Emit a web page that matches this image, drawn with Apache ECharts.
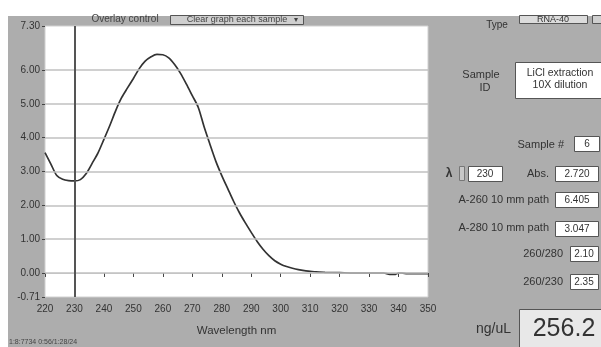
<!DOCTYPE html>
<html>
<head>
<meta charset="utf-8">
<script src="https://cdn.jsdelivr.net/npm/echarts@6/dist/echarts.min.js"></script>
<style>
html,body{margin:0;padding:0;background:#fff;width:601px;height:347px;overflow:hidden;}
#panel{position:absolute;left:8px;top:16px;width:593px;height:331px;background:#adadad;}
#chart{position:absolute;left:0;top:0;width:601px;height:347px;}
</style>
</head>
<body>
<div id="panel"></div>
<div id="chart"></div>
<script>
// Data
var wavelengths = [220,222,224,226,228,230,232,234,236,238,240,242,244,246,248,250,252,254,256,258,260,262,264,266,268,270,272,274,276,278,280,282,284,286,288,290,292,294,296,298,300,302,304,306,308,310,312,315,320,325,330,335,337,339,340,341,343,345,350];
var absorbance  = [3.56,3.22,2.88,2.77,2.73,2.72,2.76,2.94,3.24,3.55,3.95,4.36,4.80,5.18,5.47,5.75,6.04,6.26,6.39,6.46,6.45,6.36,6.16,5.90,5.58,5.24,4.90,4.32,3.80,3.30,2.88,2.50,2.12,1.78,1.48,1.20,0.93,0.70,0.51,0.36,0.26,0.19,0.14,0.10,0.07,0.05,0.03,0.02,0.01,0.00,0.00,0.00,-0.04,-0.04,0.00,0.00,-0.02,-0.02,-0.02];
var yTickLabels = [-0.71,0,1,2,3,4,5,6,7.30];
var gridValues = [0,1,2,3,4,5,6];
var cursorWavelength = 230;
var xTitle = 'Wavelength nm';
var readoutLabels = ['Sample #','Abs.','A-260 10 mm path','A-280 10 mm path','260/280','260/230'];
var readoutValues = ['6','2.720','6.405','3.047','2.10','2.35'];
var lambdaValue = '230';
var concentration = '256.2';
var sampleId = ['LiCl extraction','10X dilution'];
var sampleType = 'RNA-40';
var footer = '1:8:7734 0:56/1:28/24';

var FONT = '"Liberation Sans", Arial, sans-serif';
var TXT = '#333';
function txt(x,y,s,size,align,extra){
  var st = {text:s, font: size+'px '+FONT, fill: TXT, align: align||'left', verticalAlign:'middle'};
  if (extra) for (var k in extra) st[k]=extra[k];
  return {type:'text', x:x, y:y, z:20, style:st, silent:true};
}
function box(x,y,w,h,fill){
  return {type:'rect', z:15, shape:{x:x,y:y,width:w,height:h}, style:{fill:fill||'#ffffff', stroke:'#555', lineWidth:1}, silent:true};
}

var g = [];
// top controls
g.push(txt(125,19,'Overlay control',10,'center',{fill:'#444'}));
g.push(box(170.5,15.5,133,9,'#cfcfcf'));
g.push(txt(237,20,'Clear graph each sample',9,'center',{fill:'#444'}));
g.push(txt(296,20,'▾',8,'center',{fill:'#444'}));
g.push(txt(497,25,'Type',10,'center'));
g.push(box(519.5,15.5,68,8,'#dcdcdc'));
g.push(txt(553,19.5,sampleType,9,'center'));
g.push(box(592.5,15.5,10,8,'#cfcfcf'));
// Sample ID
g.push(txt(481,75,'Sample',11,'center'));
g.push(txt(485,88,'ID',11,'center'));
g.push(box(515.5,62.5,90,36));
g.push(txt(560,73,sampleId[0],10.5,'center'));
g.push(txt(560,85,sampleId[1],10.5,'center'));
// readouts
g.push(txt(564,145,readoutLabels[0],11,'right'));
g.push(box(574.5,136.5,25,15));
g.push(txt(587,144,readoutValues[0],10,'center'));
g.push(txt(449,174,'λ',12,'center',{font:'bold 12px '+FONT}));
g.push({type:'rect', z:15, shape:{x:459.5,y:166.5,width:5,height:14}, style:{fill:'#c8c8c8', stroke:'#777', lineWidth:1}, silent:true});
g.push(box(468.5,166.5,34,15));
g.push(txt(485,174,lambdaValue,10,'center'));
g.push(txt(549,174,readoutLabels[1],11,'right'));
g.push(box(555.5,166.5,43,15));
g.push(txt(577,174,readoutValues[1],10,'center'));
g.push(txt(549,200,readoutLabels[2],11,'right'));
g.push(box(555.5,192.5,43,15));
g.push(txt(577,200,readoutValues[2],10,'center'));
g.push(txt(549,228,readoutLabels[3],11,'right'));
g.push(box(555.5,221.5,43,15));
g.push(txt(577,229,readoutValues[3],10,'center'));
g.push(txt(563,254,readoutLabels[4],11,'right'));
g.push(box(570.5,246.5,28,15));
g.push(txt(584,254,readoutValues[4],10,'center'));
g.push(txt(563,282,readoutLabels[5],11,'right'));
g.push(box(570.5,274.5,28,15));
g.push(txt(584,282,readoutValues[5],10,'center'));
// concentration
g.push(txt(511,329,'ng/uL',14,'right'));
g.push(box(519.5,309.5,82,40,'#e8e8e8'));
g.push(txt(564,329,concentration,25,'center'));
// footer
g.push(txt(9,342,footer,7,'left',{fill:'#444'}));

var chart = echarts.init(document.getElementById('chart'), null, {renderer:'canvas'});
chart.setOption({
  animation:false,
  backgroundColor:'transparent',
  grid:{left:45, right:173, top:26, bottom:50, show:true, backgroundColor:'#ffffff', borderColor:'#d0d0d0', borderWidth:1},
  xAxis:{
    type:'value', min:220, max:350, interval:10,
    name:xTitle, nameLocation:'middle', nameGap:28,
    nameTextStyle:{fontFamily:FONT, fontSize:11.5, color:TXT},
    axisLine:{show:true, lineStyle:{color:'#d0d0d0'}},
    axisTick:{show:true, inside:false, length:4, lineStyle:{color:'#444'}},
    axisLabel:{fontFamily:FONT, fontSize:10, color:TXT, margin:7},
    splitLine:{show:false}
  },
  yAxis:{
    type:'value', min:-0.71, max:7.30,
    axisLine:{show:false},
    axisTick:{show:true, length:3, customValues:yTickLabels, lineStyle:{color:'#444'}},
    axisLabel:{fontFamily:FONT, fontSize:10, color:TXT, margin:5, customValues:yTickLabels,
      formatter:function(v){return v.toFixed(2);}},
    splitLine:{show:false}
  },
  series:[
    {
      type:'line', z:1, data:[], silent:true,
      markLine:{
        silent:true, symbol:['none','none'], label:{show:false},
        lineStyle:{color:'#c0c0c0', width:1.5, type:'solid'},
        data: gridValues.map(function(v){return {yAxis:v};})
      }
    },
    {
      type:'line', z:3, showSymbol:false, smooth:0.3,
      lineStyle:{color:'#333', width:1.7},
      data: wavelengths.map(function(w,i){return [w, absorbance[i]];}),
      markLine:{
        silent:true, symbol:['none','none'], label:{show:false},
        lineStyle:{color:'#555', width:2, type:'solid'},
        data:[{xAxis:cursorWavelength}]
      }
    }
  ],
  graphic:g
});
</script>
</body>
</html>
